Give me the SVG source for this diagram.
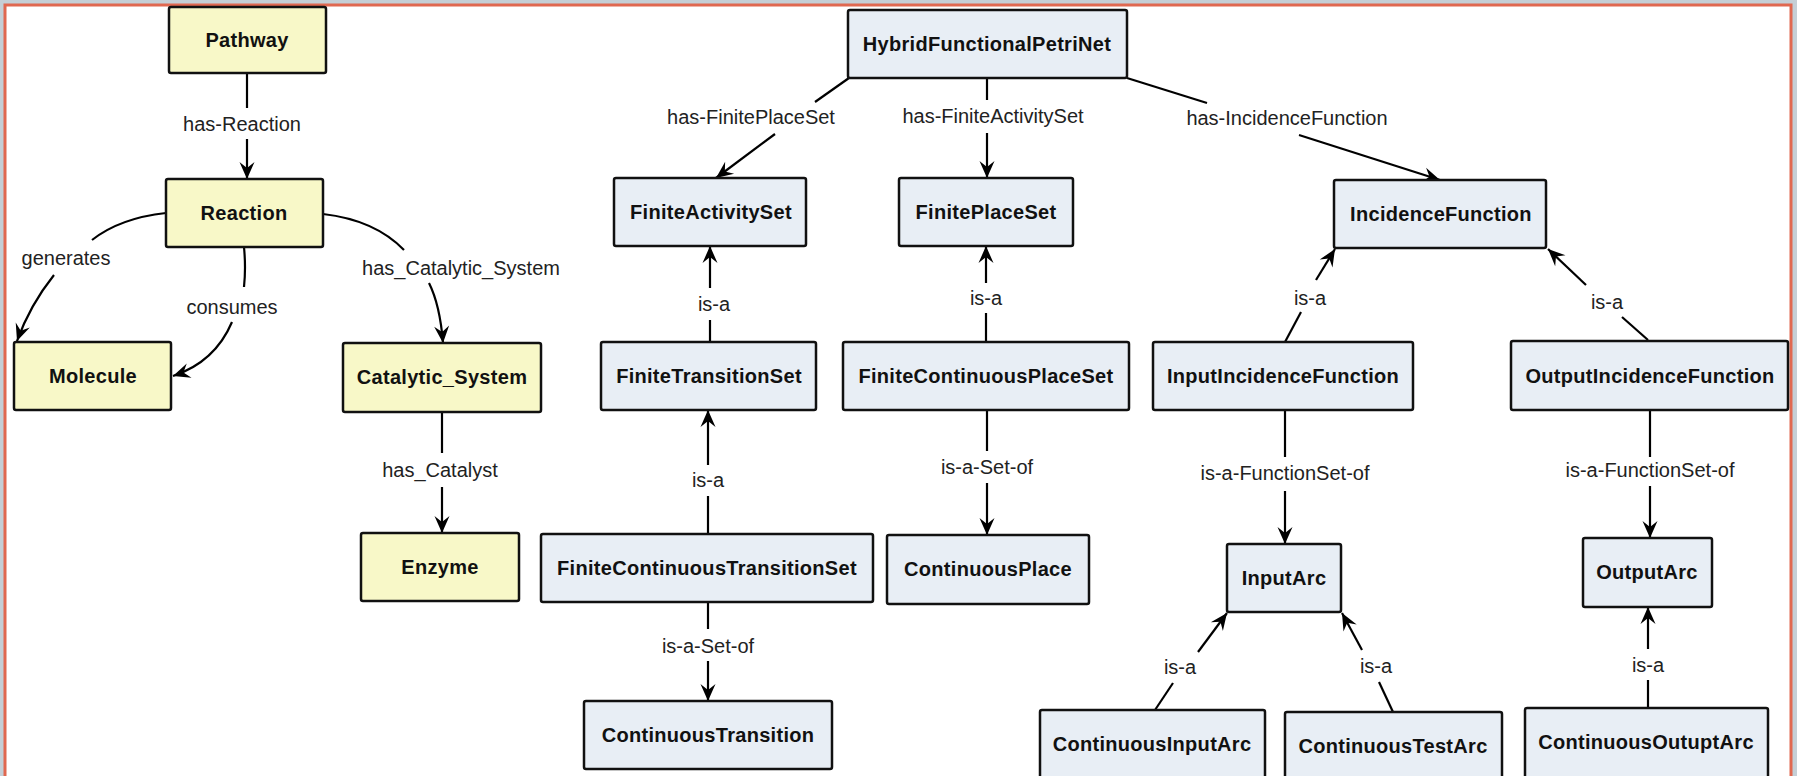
<svg xmlns="http://www.w3.org/2000/svg" width="1797" height="776" viewBox="0 0 1797 776">
<defs>
<style>
.ny rect{fill:#f8f8c8;stroke:#111;stroke-width:2.5}
.nb rect{fill:#e8eef5;stroke:#111;stroke-width:2.5}
.node text{font-family:"Liberation Sans",Arial,sans-serif;font-weight:bold;font-size:20px;letter-spacing:0.3px;fill:#111;text-anchor:middle}
.edges path{fill:none;stroke:#000;stroke-width:2.2}
.edges path.a{marker-end:url(#arr)}
.lbl{font-family:"Liberation Sans",Arial,sans-serif;font-size:20px;fill:#222;text-anchor:middle}
</style>
<marker id="arr" markerUnits="userSpaceOnUse" markerWidth="20" markerHeight="20" viewBox="-18 -9 20 18" refX="0" refY="0" orient="auto">
<path d="M0,0 L-17,-7.5 L-11,0 L-17,7.5 Z" fill="#000"/>
</marker>
</defs>
<rect x="0" y="0" width="1797" height="776" fill="#c5cfd6"/>
<rect x="5" y="5" width="1786" height="800" fill="#fff" stroke="#e06850" stroke-width="3"/>

<g id="connectors" class="edges">
<path d="M247,73 L247,108"/>
<path class="a" d="M247,139 L247,179"/>
<text class="lbl" x="242" y="131">has-Reaction</text>

<path d="M166,213 Q120,218 92,240"/>
<path class="a" d="M54,275 Q30,305 17,341"/>
<text class="lbl" x="66" y="265">generates</text>

<path d="M244,247 Q246,268 244,287"/>
<path class="a" d="M232,322 Q215,362 173,376"/>
<text class="lbl" x="232" y="314">consumes</text>

<path d="M323,214 Q375,220 404,250"/>
<path class="a" d="M429,283 Q440,305 443,343"/>
<text class="lbl" x="461" y="275">has_Catalytic_System</text>

<path d="M442,412 L442,453"/>
<path class="a" d="M442,487 L442,533"/>
<text class="lbl" x="440" y="477">has_Catalyst</text>

<path d="M849,78 L815,102"/>
<path class="a" d="M775,134 L716,178"/>
<text class="lbl" x="751" y="124">has-FinitePlaceSet</text>

<path d="M987,78 L987,100"/>
<path class="a" d="M987,133 L987,178"/>
<text class="lbl" x="993" y="123">has-FiniteActivitySet</text>

<path d="M1127,78 L1207,103"/>
<path class="a" d="M1299,135 L1440,180"/>
<text class="lbl" x="1287" y="125">has-IncidenceFunction</text>

<path d="M710,342 L710,320"/>
<path class="a" d="M710,288 L710,246"/>
<text class="lbl" x="714" y="311">is-a</text>

<path d="M986,342 L986,313"/>
<path class="a" d="M986,283 L986,246"/>
<text class="lbl" x="986" y="305">is-a</text>

<path d="M708,534 L708,496"/>
<path class="a" d="M708,465 L708,410"/>
<text class="lbl" x="708" y="487">is-a</text>

<path d="M987,410 L987,451"/>
<path class="a" d="M987,483 L987,535"/>
<text class="lbl" x="987" y="474">is-a-Set-of</text>

<path d="M708,602 L708,629"/>
<path class="a" d="M708,661 L708,701"/>
<text class="lbl" x="708" y="653">is-a-Set-of</text>

<path d="M1285,342 L1301,312"/>
<path class="a" d="M1316,280 L1335,249"/>
<text class="lbl" x="1310" y="305">is-a</text>

<path d="M1648,340 L1622,317"/>
<path class="a" d="M1586,285 L1548,249"/>
<text class="lbl" x="1607" y="309">is-a</text>

<path d="M1285,410 L1285,457"/>
<path class="a" d="M1285,491 L1285,544"/>
<text class="lbl" x="1285" y="480">is-a-FunctionSet-of</text>

<path d="M1650,410 L1650,457"/>
<path class="a" d="M1650,486 L1650,538"/>
<text class="lbl" x="1650" y="477">is-a-FunctionSet-of</text>

<path d="M1155,710 L1173,683"/>
<path class="a" d="M1198,652 L1227,613"/>
<text class="lbl" x="1180" y="674">is-a</text>

<path d="M1393,712 L1379,682"/>
<path class="a" d="M1362,650 L1342,613"/>
<text class="lbl" x="1376" y="673">is-a</text>

<path d="M1648,708 L1648,680"/>
<path class="a" d="M1648,649 L1648,607"/>
<text class="lbl" x="1648" y="672">is-a</text>
</g>

<g id="Pathway" class="node ny"><rect x="169" y="7" width="157" height="66" rx="2"/><text x="247" y="47">Pathway</text></g>
<g id="Reaction" class="node ny"><rect x="166" y="179" width="157" height="68" rx="2"/><text x="244" y="220">Reaction</text></g>
<g id="Molecule" class="node ny"><rect x="14" y="342" width="157" height="68" rx="2"/><text x="93" y="383">Molecule</text></g>
<g id="Catalytic_System" class="node ny"><rect x="343" y="343" width="198" height="69" rx="2"/><text x="442" y="384">Catalytic_System</text></g>
<g id="Enzyme" class="node ny"><rect x="361" y="533" width="158" height="68" rx="2"/><text x="440" y="574">Enzyme</text></g>

<g id="HybridFunctionalPetriNet" class="node nb"><rect x="848" y="10" width="279" height="68" rx="2"/><text x="987" y="51">HybridFunctionalPetriNet</text></g>
<g id="FiniteActivitySet" class="node nb"><rect x="614" y="178" width="192" height="68" rx="2"/><text x="711" y="219">FiniteActivitySet</text></g>
<g id="FinitePlaceSet" class="node nb"><rect x="899" y="178" width="174" height="68" rx="2"/><text x="986" y="219">FinitePlaceSet</text></g>
<g id="IncidenceFunction" class="node nb"><rect x="1334" y="180" width="212" height="68" rx="2"/><text x="1441" y="221">IncidenceFunction</text></g>
<g id="FiniteTransitionSet" class="node nb"><rect x="601" y="342" width="215" height="68" rx="2"/><text x="709" y="383">FiniteTransitionSet</text></g>
<g id="FiniteContinuousPlaceSet" class="node nb"><rect x="843" y="342" width="286" height="68" rx="2"/><text x="986" y="383">FiniteContinuousPlaceSet</text></g>
<g id="InputIncidenceFunction" class="node nb"><rect x="1153" y="342" width="260" height="68" rx="2"/><text x="1283" y="383">InputIncidenceFunction</text></g>
<g id="OutputIncidenceFunction" class="node nb"><rect x="1511" y="341" width="277" height="69" rx="2"/><text x="1650" y="383">OutputIncidenceFunction</text></g>
<g id="FiniteContinuousTransitionSet" class="node nb"><rect x="541" y="534" width="332" height="68" rx="2"/><text x="707" y="575">FiniteContinuousTransitionSet</text></g>
<g id="ContinuousPlace" class="node nb"><rect x="887" y="535" width="202" height="69" rx="2"/><text x="988" y="576">ContinuousPlace</text></g>
<g id="InputArc" class="node nb"><rect x="1227" y="544" width="114" height="68" rx="2"/><text x="1284" y="585">InputArc</text></g>
<g id="OutputArc" class="node nb"><rect x="1583" y="538" width="129" height="69" rx="2"/><text x="1647" y="579">OutputArc</text></g>
<g id="ContinuousTransition" class="node nb"><rect x="584" y="701" width="248" height="68" rx="2"/><text x="708" y="742">ContinuousTransition</text></g>
<g id="ContinuousInputArc" class="node nb"><rect x="1040" y="710" width="225" height="72" rx="2"/><text x="1152" y="751">ContinuousInputArc</text></g>
<g id="ContinuousTestArc" class="node nb"><rect x="1285" y="712" width="217" height="72" rx="2"/><text x="1393" y="753">ContinuousTestArc</text></g>
<g id="ContinuousOutuptArc" class="node nb"><rect x="1525" y="708" width="243" height="72" rx="2"/><text x="1646" y="749">ContinuousOutuptArc</text></g>
</svg>
